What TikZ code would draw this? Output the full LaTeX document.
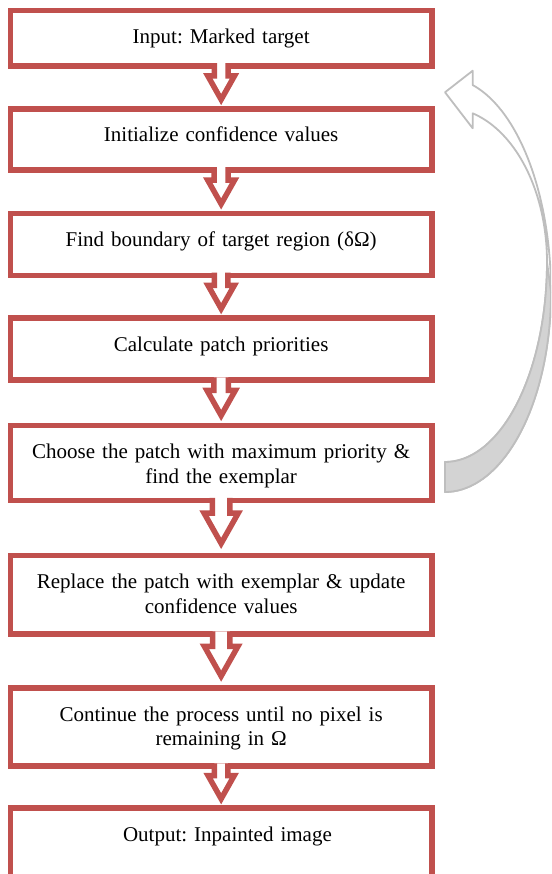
\documentclass[tikz,border=0pt]{standalone}
\usepackage{fontspec}
\setmainfont{Liberation Serif}
\usepackage{xcolor}
\usetikzlibrary{calc}
\frenchspacing

\definecolor{boxRed}{RGB}{192,80,77}
\definecolor{loopLine}{RGB}{190,190,190}
\definecolor{loopFill}{RGB}{211,211,211}

\tikzset{
    stepbox/.style={draw=boxRed, line width=5.5pt, fill=white, anchor=north, outer sep=0pt, inner sep=0pt,
        minimum width=421.7pt, text width=412pt, align=center, text height=33pt, font=\fontsize{21}{24.5}\selectfont},
    blockarrow/.style={draw=boxRed, line width=5.5pt, fill=white, miter limit=10},
    loopback/.style={draw=loopLine, line width=1.8pt, fill=white, line join=round},
    loopfront/.style={draw=loopLine, line width=1.8pt, fill=loopFill, line join=round},
}

\begin{document}
\begin{tikzpicture}[x=1pt, y=-1pt]

    \def\midX{221.15}; % centre line of the boxes
    \def\tailX{445}; % left end of the loop arrow

    \useasboundingbox (0,0) rectangle (551,874);
    \clip (0,0) rectangle (551,874);

    %%% boxes %%%
    \node[stepbox, text depth=22.7pt] (input) at (\midX, 10.3) {Input: Marked target\hspace*{35pt}};
    \node[stepbox, text depth=28pt] (init) at (\midX, 109) {Initialize confidence values};
    \node[stepbox, text depth=29pt] (bound) at (\midX, 213.5) {Find boundary of target region (δΩ)};
    \node[stepbox, text depth=29pt] (prior) at (\midX, 318) {Calculate patch priorities};
    \node[stepbox, text depth=42pt] (choose) at (\midX, 425.5) {Choose the patch with maximum priority \&\\find the exemplar};
    \node[stepbox, text depth=45.5pt] (replace) at (\midX, 555.5) {Replace the patch with exemplar \& update\\confidence values};
    \node[stepbox, text depth=45pt] (cont) at (\midX, 688) {Continue the process until no pixel is\\remaining in Ω};
    \node[stepbox, text depth=67pt] (output) at (\midX, 808) {\hspace*{12.6pt}Output: Inpainted image};

    %%% block arrows between the boxes %%%
    \foreach \a/\b in {input/init, init/bound, bound/prior, prior/choose, choose/replace, replace/cont, cont/output}{
        \draw[blockarrow] let \p1=(\a.south), \p2=(\b.north), \n1={\y1-\y2} in
            (\x1-0.16*\n1, \y1+2.75) -- (\x1-0.16*\n1, \y1-0.23*\n1) -- (\x1-0.31*\n1, \y1-0.23*\n1)
            -- (\x1, \y1-0.78*\n1)
            -- (\x1+0.31*\n1, \y1-0.23*\n1) -- (\x1+0.16*\n1, \y1-0.23*\n1) -- (\x1+0.16*\n1, \y1+2.75);
    }

    %%% loop back arrow %%%
    % back of the band, with the head
    \filldraw[loopback] (\tailX, 461.7)
        -- plot[domain=90:0, samples=40] ({\tailX+102*cos(\x)}, {262+200*sin(\x)})
        -- plot[domain=0:-74.24, samples=40] ({\tailX+102*cos(\x)}, {262+154.5*sin(\x)})
        -- (472.7, 128.3) -- (\tailX, 92.3) -- (472.7, 70.7) -- (472.7, 85)
        -- plot[domain=-74.85:0, samples=40] ({\tailX+106*cos(\x)}, {292+214.4*sin(\x)})
        -- plot[domain=0:90, samples=40] ({\tailX+106*cos(\x)}, {292+200*sin(\x)}) -- cycle;
    % front of the band
    \filldraw[loopfront] (551, 292)
        -- plot[domain=0:90, samples=40] ({\tailX+106*cos(\x)}, {292+200*sin(\x)})
        -- (\tailX, 461.7)
        -- plot[domain=90:0, samples=40] ({\tailX+102*cos(\x)}, {262+200*sin(\x)}) -- cycle;

\end{tikzpicture}
\end{document}
